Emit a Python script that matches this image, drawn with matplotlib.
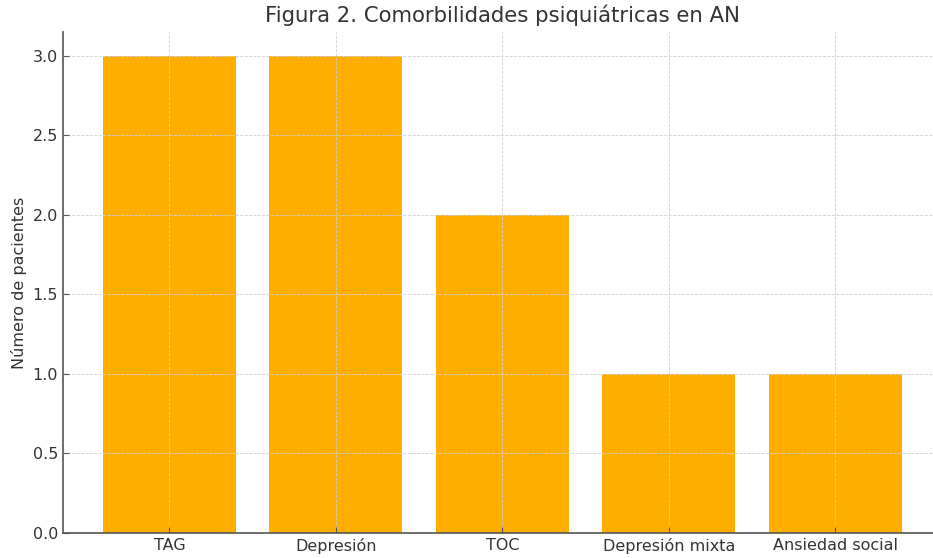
import matplotlib
matplotlib.use("Agg")
import matplotlib.pyplot as plt

categories = ["TAG", "Depresión", "TOC", "Depresión mixta", "Ansiedad social"]
values = [3, 3, 2, 1, 1]
yticks = [0.0, 0.5, 1.0, 1.5, 2.0, 2.5, 3.0]

plt.rcParams['font.family'] = ['DejaVu Sans']
text_color = '#333333'

fig = plt.figure(figsize=(9.33, 5.58), dpi=100)
ax = fig.add_axes([63/933, 25/558, (941.6-63)/933, (533-32)/558])

x = list(range(len(categories)))
ax.bar(x, values, width=0.8, color='#FFAE00', zorder=1)
ax.set_xticks(x)
ax.set_xticklabels(categories, fontsize=11.5, color=text_color)
ax.set_yticks(yticks)
ax.set_yticklabels([f"{v:.1f}" for v in yticks], fontsize=11.5, color=text_color)
ax.set_xlim(-0.64, 4.64)
ax.set_ylim(0, 3.15)
ax.grid(True, linestyle='--', color='#d0d0d0', linewidth=0.6, zorder=2)
ax.set_axisbelow(False)
for s in ['top', 'right']:
    ax.spines[s].set_visible(False)
for s in ['left', 'bottom']:
    ax.spines[s].set_color('#555555')
    ax.spines[s].set_linewidth(1.2)
ax.tick_params(direction='in', colors='#555555', labelcolor=text_color, length=4)
ax.set_ylabel("Número de pacientes", fontsize=11.5, color=text_color)
ax.set_title("Figura 2. Comorbilidades psiquiátricas en AN", fontsize=15.3, color=text_color, pad=7)

fig.savefig("out.png", dpi=100)
